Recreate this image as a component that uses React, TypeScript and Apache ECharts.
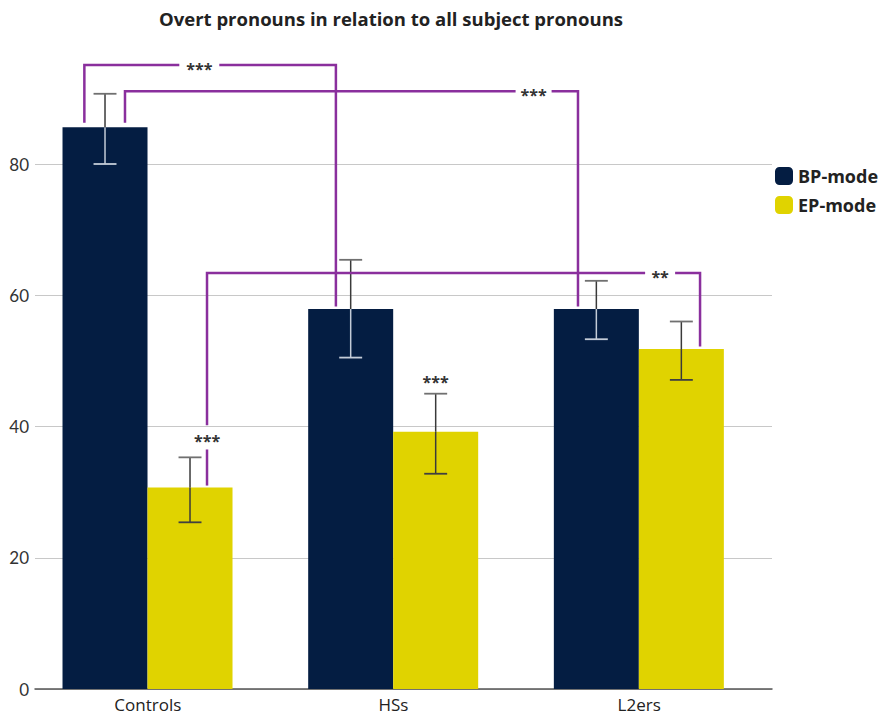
import React, { useEffect, useRef } from 'react';
import * as echarts from 'echarts';

const categories = ['Controls', 'HSs', 'L2ers'];
const seriesNames = ['BP-mode', 'EP-mode'];
const bpValues = [85.6, 57.9, 57.9];
const epValues = [30.7, 39.2, 51.8];
const bpErrLow = [80.0, 50.5, 53.3];
const bpErrHigh = [90.7, 65.4, 62.2];
const epErrLow = [25.4, 32.8, 47.1];
const epErrHigh = [35.3, 45.0, 56.0];
const yMax = 100;
const yInterval = 20;

// significance brackets (category index, series index, values)
const bracketFrom = [[0, 0], [0, 0], [0, 1]];
const bracketTo = [[1, 0], [2, 0], [2, 1]];
const bracketLevel = [95.1, 91.1, 63.4];
const bracketFromEnd = [86.3, 86.3, 31.0];
const bracketToEnd = [58.3, 58.3, 52.2];
const bracketLabels = ['***', '***', '**'];
const bracketFromGap: (number[] | null)[] = [null, null, [36.5, 40.2]];

// standalone significance marks
const sigCat = [0, 1];
const sigSeries = [1, 1];
const sigValue = [38.4, 47.4];
const sigText = ['***', '***'];

// styling / layout
const NAVY = '#041d42';
const YELLOW = '#e0d300';
const PURPLE = '#8a2f9d';
const BAR_FRAC = 0.346;
const SPACER_FRAC = 0.084;
const legOffsets = [[-0.243, -0.174], [0.235, -0.216], [0.2, 0.22]];
const labelPos = [0.457, 0.902, 0.919];
const labelGap = [20, 18, 15];
const sigOffsets = [0.2, 0];

function barCenter(api: any, cat: number, ser: number) {
  const band = api.size([1, 0])[0];
  const c = api.coord([cat, 0])[0];
  const off = ser === 0 ? -(BAR_FRAC + SPACER_FRAC) / 2 : (BAR_FRAC - SPACER_FRAC) / 2;
  return { x: c + off * band, bw: BAR_FRAC * band };
}

const errLow = [bpErrLow, epErrLow];
const errHigh = [bpErrHigh, epErrHigh];
const barVals = [bpValues, epValues];

export default function App() {
  const ref = useRef<HTMLDivElement>(null);
  useEffect(() => {
    if (!ref.current) return;
    const chart = echarts.init(ref.current, undefined, { renderer: 'svg' });

    const errorSeries = [0, 1].map((ser) => ({
      type: 'custom',
      z: 5,
      data: categories.map((_, i) => [i, errLow[ser][i], errHigh[ser][i], barVals[ser][i]]),
      encode: { x: 0, y: [1, 2] },
      renderItem: (params: any, api: any) => {
        const cat = api.value(0);
        const { x, bw } = barCenter(api, cat, ser);
        const yLo = api.coord([cat, api.value(1)])[1];
        const yHi = api.coord([cat, api.value(2)])[1];
        const yBar = api.coord([cat, api.value(3)])[1];
        const cap = bw * 0.135;
        const inside = ser === 0 ? '#c4ccd8' : '#3a3a3a';
        const outside = '#3a3a3a';
        const capOut = '#707070';
        const capIn = ser === 0 ? '#c4ccd8' : '#404040';
        return {
          type: 'group',
          children: [
            { type: 'line', shape: { x1: x, y1: yLo, x2: x, y2: yBar }, style: { stroke: inside, lineWidth: 1.5 } },
            { type: 'line', shape: { x1: x, y1: yBar, x2: x, y2: yHi }, style: { stroke: outside, lineWidth: 1.5 } },
            { type: 'line', shape: { x1: x - cap, y1: yHi, x2: x + cap, y2: yHi }, style: { stroke: capOut, lineWidth: 1.8 } },
            { type: 'line', shape: { x1: x - cap, y1: yLo, x2: x + cap, y2: yLo }, style: { stroke: capIn, lineWidth: 1.8 } },
          ],
        };
      },
    }));

    const bracketSeries = {
      type: 'custom',
      z: 6,
      data: bracketLevel.map((lv, i) => [bracketFrom[i][0], lv, i]),
      encode: { x: 0, y: 1 },
      renderItem: (params: any, api: any) => {
        const i = api.value(2);
        const f = barCenter(api, bracketFrom[i][0], bracketFrom[i][1]);
        const t = barCenter(api, bracketTo[i][0], bracketTo[i][1]);
        const lx = f.x + legOffsets[i][0] * f.bw;
        const rx = t.x + legOffsets[i][1] * t.bw;
        const yL = api.coord([0, bracketLevel[i]])[1];
        const yFe = api.coord([0, bracketFromEnd[i]])[1];
        const yTe = api.coord([0, bracketToEnd[i]])[1];
        const tx = lx + (rx - lx) * labelPos[i];
        const g = labelGap[i];
        const st = { stroke: PURPLE, lineWidth: 2.5, fill: null, lineJoin: 'miter' };
        const children: any[] = [];
        const gap = bracketFromGap[i];
        if (gap) {
          const gTop = api.coord([0, gap[1]])[1];
          const gBot = api.coord([0, gap[0]])[1];
          children.push({ type: 'polyline', shape: { points: [[tx - g, yL], [lx, yL], [lx, gTop]] }, style: st });
          children.push({ type: 'line', shape: { x1: lx, y1: gBot, x2: lx, y2: yFe }, style: st });
        } else {
          children.push({ type: 'polyline', shape: { points: [[tx - g, yL], [lx, yL], [lx, yFe]] }, style: st });
        }
        children.push({ type: 'polyline', shape: { points: [[tx + g, yL], [rx, yL], [rx, yTe]] }, style: st });
        children.push({
          type: 'text',
          style: {
            text: bracketLabels[i], x: tx, y: yL + 4, align: 'center', verticalAlign: 'middle',
            font: 'bold 16px "Open Sans"', fill: '#333',
          },
        });
        return { type: 'group', children };
      },
    };

    const sigSeriesDef = {
      type: 'custom',
      z: 6,
      data: sigValue.map((v, i) => [sigCat[i], v, i]),
      encode: { x: 0, y: 1 },
      renderItem: (params: any, api: any) => {
        const i = api.value(2);
        const b = barCenter(api, sigCat[i], sigSeries[i]);
        const x = b.x + sigOffsets[i] * b.bw;
        const y = api.coord([0, sigValue[i]])[1];
        return {
          type: 'text',
          style: {
            text: sigText[i], x, y: y + 4, align: 'center', verticalAlign: 'middle',
            font: 'bold 16px "Open Sans"', fill: '#333',
          },
        };
      },
    };

    chart.setOption({
      animation: false,
      title: {
        text: 'Overt pronouns in relation to all subject pronouns',
        left: 159,
        top: 9,
        padding: 0,
        textStyle: { fontFamily: 'Open Sans', fontWeight: 'bold', fontSize: 18.5, color: '#222' },
      },
      legend: {
        data: seriesNames,
        orient: 'vertical',
        left: 775,
        top: 167,
        padding: 0,
        itemWidth: 18,
        itemHeight: 18,
        itemGap: 11,
        icon: 'roundRect',
        textStyle: { fontFamily: 'Open Sans', fontWeight: 'bold', fontSize: 18, color: '#222' },
      },
      grid: { left: 35, right: 113, top: 32.75, bottom: 26, containLabel: false },
      xAxis: {
        type: 'category',
        data: categories,
        axisTick: { show: false },
        axisLine: { lineStyle: { color: '#555', width: 1.5 } },
        axisLabel: {
          fontFamily: 'Open Sans', fontSize: 17, lineHeight: 17, color: '#222', margin: 7,
          padding: [0, 20, 0, 0],
        },
      },
      yAxis: {
        type: 'value',
        min: 0,
        max: yMax,
        interval: yInterval,
        axisLine: { show: false },
        axisTick: { show: false },
        axisLabel: { showMaxLabel: false, fontFamily: 'Lato', fontSize: 17, color: '#333', margin: 6 },
        splitLine: { showMaxLine: false, lineStyle: { color: '#c8c8c8', width: 1.2 } },
      },
      series: [
        { name: seriesNames[0], type: 'bar', data: bpValues, barWidth: BAR_FRAC * 100 + '%', barGap: '0%', itemStyle: { color: NAVY } },
        { name: seriesNames[1], type: 'bar', data: epValues, barWidth: BAR_FRAC * 100 + '%', barGap: '0%', itemStyle: { color: YELLOW } },
        { name: 'spacer', type: 'bar', data: categories.map(() => 0), barWidth: SPACER_FRAC * 100 + '%', barGap: '0%', itemStyle: { color: 'rgba(0,0,0,0)' }, silent: true },
        ...errorSeries,
        bracketSeries,
        sigSeriesDef,
      ],
    });
    return () => chart.dispose();
  }, []);
  return (
    <div
      ref={ref}
      style={{ position: 'absolute', left: 0, top: 0, width: 885, height: 715, overflow: 'hidden' }}
    />
  );
}
